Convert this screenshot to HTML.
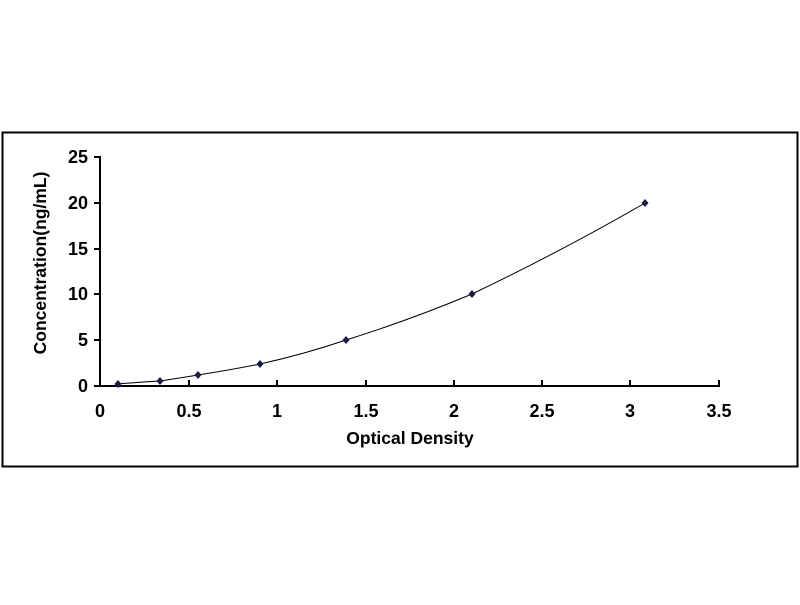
<!DOCTYPE html>
<html><head><style>body{margin:0;background:#fff}</style></head><body>
<svg width="800" height="600" xmlns="http://www.w3.org/2000/svg" font-family="Liberation Sans, Arial, sans-serif" font-weight="bold">
<rect x="0" y="0" width="800" height="600" fill="#fff"/>
<rect x="2.5" y="132.5" width="795" height="334" fill="none" stroke="#000" stroke-width="2"/>
<g stroke="#000" stroke-width="2">
<line x1="100" y1="156" x2="100" y2="387"/>
<line x1="99" y1="386" x2="720" y2="386"/>
<line x1="94" y1="157" x2="100" y2="157"/>
<line x1="94" y1="203" x2="100" y2="203"/>
<line x1="94" y1="249" x2="100" y2="249"/>
<line x1="94" y1="294" x2="100" y2="294"/>
<line x1="94" y1="340" x2="100" y2="340"/>
<line x1="94" y1="386" x2="100" y2="386"/>
<line x1="189" y1="380" x2="189" y2="386"/>
<line x1="277" y1="380" x2="277" y2="386"/>
<line x1="366" y1="380" x2="366" y2="386"/>
<line x1="454" y1="380" x2="454" y2="386"/>
<line x1="542" y1="380" x2="542" y2="386"/>
<line x1="630" y1="380" x2="630" y2="386"/>
<line x1="719" y1="380" x2="719" y2="386"/>
</g>
<g font-size="18" text-anchor="end">
<text x="88" y="163">25</text><text x="88" y="209">20</text><text x="88" y="255">15</text>
<text x="88" y="300">10</text><text x="88" y="346">5</text><text x="88" y="392">0</text>
</g>
<g font-size="18" text-anchor="middle">
<text x="100" y="417">0</text><text x="189" y="417">0.5</text><text x="277" y="417">1</text>
<text x="366" y="417">1.5</text><text x="454" y="417">2</text><text x="542" y="417">2.5</text>
<text x="630" y="417">3</text><text x="719" y="417">3.5</text>
<text x="410" y="444" font-size="17.5">Optical Density</text>
<text transform="translate(46,263) rotate(-90)" font-size="17.5">Concentration(ng/mL)</text>
</g>
<path d="M118,384 Q140,382 160,381 Q180,378 198,375 Q230,370 260,364 Q305,354 346,340 Q410,320 472,294 Q560,252 645,203" fill="none" stroke="#000" stroke-width="1"/>
<g fill="#1a1a4a">
<path d="M118,380 l3.5,4 l-3.5,4 l-3.5,-4z"/>
<path d="M160,377 l3.5,4 l-3.5,4 l-3.5,-4z"/>
<path d="M198,371 l3.5,4 l-3.5,4 l-3.5,-4z"/>
<path d="M260,360 l3.5,4 l-3.5,4 l-3.5,-4z"/>
<path d="M346,336 l3.5,4 l-3.5,4 l-3.5,-4z"/>
<path d="M472,290 l3.5,4 l-3.5,4 l-3.5,-4z"/>
<path d="M645,199 l3.5,4 l-3.5,4 l-3.5,-4z"/>
</g>
</svg>
</body></html>
